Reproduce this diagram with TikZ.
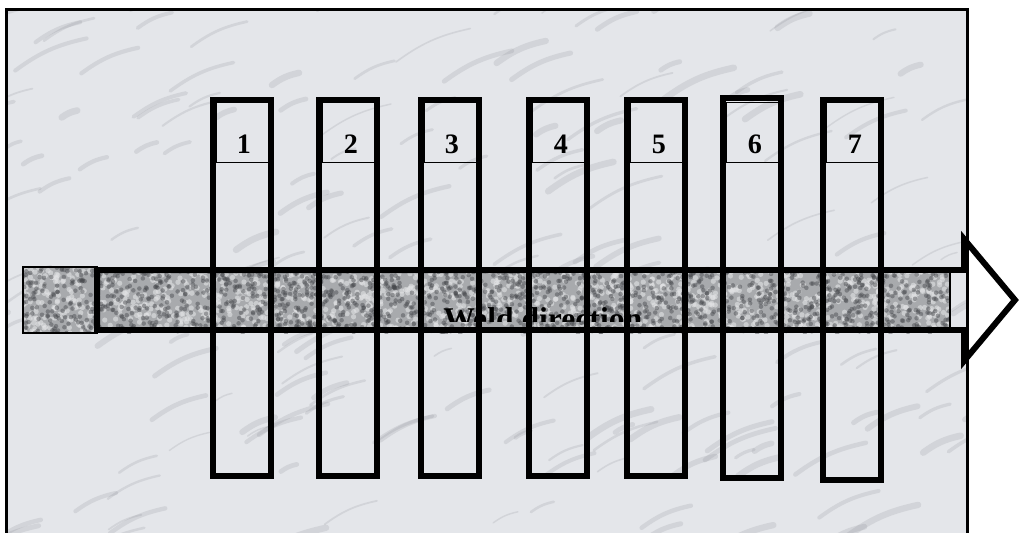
\documentclass[tikz,border=0pt]{standalone}
\usepackage{fontspec}
\setmainfont{Liberation Serif}
\definecolor{MarbleBase}{RGB}{228,230,234}
\definecolor{MarbleVein}{RGB}{120,122,130}
\definecolor{GraniteBase}{RGB}{168,170,173}
\definecolor{GraniteDark}{RGB}{70,72,76}
\definecolor{GraniteLight}{RGB}{226,227,229}
\usetikzlibrary{positioning}

\begin{document}
\begin{tikzpicture}[x=0.02cm, y=-0.02cm,
	strip/.style={draw, line width=3.4pt, minimum width=1.16cm, inner sep=0pt},
	lblbox/.style={draw, line width=0.5pt, minimum width=1.04cm, minimum height=1.2cm, inner sep=0pt},
	num/.style={font=\fontsize{16}{18}\selectfont\bfseries, inner sep=0pt},
	granite/.style={fill=GraniteBase, inner sep=0pt, outer sep=0pt},
	weld/.style={line width=3.4pt}]

	\clip (0,0) rectangle (1021,532);

	% marble plate
	\fill[MarbleBase] (6.5,9) rectangle (967,560);
	\begin{scope}
		\clip (6.5,9) rectangle (967,560);
		\pgfmathsetseed{11}
		\foreach \k in {1,...,200}{
			\pgfmathsetmacro\vx{-40+1040*rnd}
			\pgfmathsetmacro\vy{570*rnd}
			\pgfmathsetmacro\vl{15+60*rnd}
			\pgfmathsetmacro\vw{0.8+3*rnd}
			\draw[MarbleVein, opacity=0.16, line width=\vw pt, line cap=round]
				(\vx,\vy) to[bend left=12] ++({\vl},{-0.45*\vl});}
	\end{scope}

	% granite weld bead
	\node[granite, minimum width=1.48cm, minimum height=1.32cm] (lead) at (60,300) {};
	\node[granite, minimum width=17.06cm, minimum height=1.2cm] (bar) at (523.5,300) {};
	\begin{scope}
		\clip (23,267) rectangle (950,333);
		\pgfmathsetseed{5}
		\foreach \k in {1,...,1400}{
			\pgfmathsetmacro\gx{23+927*rnd}
			\pgfmathsetmacro\gy{267+66*rnd}
			\fill[GraniteLight, opacity=0.6] (\gx,\gy) circle (1.5pt);}
		\foreach \k in {1,...,1700}{
			\pgfmathsetmacro\gx{23+927*rnd}
			\pgfmathsetmacro\gy{267+66*rnd}
			\fill[GraniteDark, opacity=0.45] (\gx,\gy) circle (1.3pt);}
	\end{scope}
	\draw[line width=1pt] (lead.north west) rectangle (lead.south east);
	\draw[line width=1pt] (bar.north west) rectangle (bar.south east);

	% weld direction label (half hidden)
	\begin{scope}
		\clip (97,274) rectangle (950,321);
		\node[font=\fontsize{18}{20}\selectfont\bfseries, anchor=base west, inner sep=0pt] (wd) at (443,329) {Weld direction};
	\end{scope}

	% arrow outline
	\draw[weld] (bar.north west) -- (964,270) -- (964,239) -- (1015,300)
		-- (964,361) -- (964,330) -- (bar.south west) -- cycle;

	% plate edge
	\draw[line width=1.7pt] (6.5,9) rectangle (967,560);

	% specimens
	\foreach \i/\cx/\cy/\h/\lx in {1/242/288/376/244, 2/348/288/376/351, 3/450/288/376/452,
		4/558/288/376/561, 5/656/288/376/659, 6/752/288/380/755, 7/852/290/380/855}{
		\node[lblbox, anchor=south] (b\i) at (\cx,163) {};
		\node[strip, minimum height=\h*0.02cm] (s\i) at (\cx,\cy) {};
		\node[num, anchor=base] (n\i) at (\lx,153) {\i};}
\end{tikzpicture}
\end{document}
